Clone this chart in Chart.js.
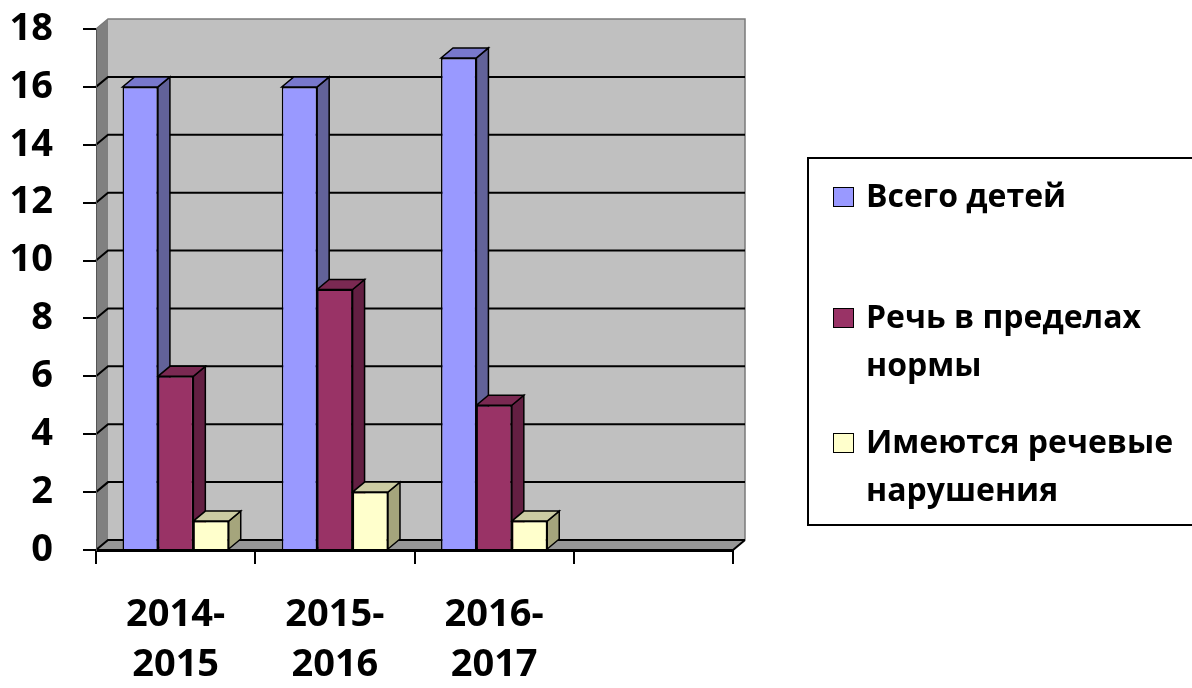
<!DOCTYPE html>
<html><head><meta charset="utf-8">
<script src="https://cdn.jsdelivr.net/npm/chart.js@4.4.1/dist/chart.umd.min.js"></script>
<style>
html,body{margin:0;padding:0;background:#fff;}
#wrap{position:relative;width:1192px;height:688px;overflow:hidden;}
#c{position:absolute;left:0;top:0;}
#legendBox{position:absolute;left:807px;top:157px;width:420px;height:369px;border:2px solid #000;box-sizing:border-box;}
.lg-item{position:absolute;left:866px;font-family:'Open Sans',sans-serif;font-weight:bold;font-size:32px;line-height:48px;color:#000;white-space:nowrap;}
.lg-box{position:absolute;left:833px;width:21px;height:20px;border:1.5px solid #000;box-sizing:border-box;}
</style>
</head><body>
<div id="wrap"><canvas id="c" width="1192" height="688"></canvas></div>
<script>
const categories = [['2014-','2015'], ['2015-','2016'], ['2016-','2017'], ''];
const seriesNames = ['Всего детей', 'Речь в пределах нормы', 'Имеются речевые нарушения'];
const legendLines = [['Всего детей'], ['Речь в пределах','нормы'], ['Имеются речевые','нарушения']];
const totalChildren = [16, 16, 17, null];
const normalSpeech = [6, 9, 5, null];
const speechDisorders = [1, 2, 1, null];
const yMin = 0, yMax = 18, yStep = 2;

const frontColors = ['#9999FF', '#993366', '#FFFFCC'];
const topColors = ['#7878CC', '#7A2952', '#CCCCA3'];
const sideColors = ['#626299', '#631F42', '#A5A57C'];
const DX = 12, DY = 10;

function poly(ctx, pts, fill, stroke, lw) {
  ctx.beginPath();
  ctx.moveTo(pts[0][0], pts[0][1]);
  for (let i = 1; i < pts.length; i++) ctx.lineTo(pts[i][0], pts[i][1]);
  ctx.closePath();
  if (fill) { ctx.fillStyle = fill; ctx.fill(); }
  if (stroke) { ctx.strokeStyle = stroke; ctx.lineWidth = lw || 1; ctx.stroke(); }
}

const wallsPlugin = {
  id: 'walls',
  beforeDraw(chart) {
    const ctx = chart.ctx, a = chart.chartArea, y = chart.scales.y;
    ctx.save();
    poly(ctx, [[a.left, a.top], [a.left + DX, a.top - DY], [a.left + DX, a.bottom - DY], [a.left, a.bottom]], '#808080');
    ctx.fillStyle = '#C0C0C0';
    ctx.fillRect(a.left + DX, a.top - DY, a.right - a.left, a.bottom - a.top);
    poly(ctx, [[a.left, a.bottom], [a.left + DX, a.bottom - DY], [a.right + DX, a.bottom - DY], [a.right, a.bottom]], '#969696');
    ctx.strokeStyle = '#7a7a7a'; ctx.lineWidth = 1.5;
    ctx.beginPath();
    ctx.moveTo(a.left, a.top); ctx.lineTo(a.left + DX, a.top - DY);
    ctx.lineTo(a.right + DX, a.top - DY); ctx.lineTo(a.right + DX, a.bottom - DY);
    ctx.stroke();
    ctx.strokeStyle = '#000'; ctx.lineWidth = 2;
    y.ticks.forEach(t => {
      if (t.value >= yMax) return;
      const py = y.getPixelForValue(t.value);
      ctx.beginPath();
      ctx.moveTo(a.left, py); ctx.lineTo(a.left + DX, py - DY); ctx.lineTo(a.right + DX, py - DY);
      ctx.stroke();
    });
    ctx.beginPath(); ctx.moveTo(a.right, a.bottom); ctx.lineTo(a.right + DX, a.bottom - DY); ctx.stroke();
    ctx.restore();
  }
};

const barDepthPlugin = {
  id: 'barDepth',
  beforeDatasetsDraw(chart) {
    const ctx = chart.ctx;
    ctx.save();
    const n = chart.data.labels.length;
    for (let i = 0; i < n; i++) {
      chart.data.datasets.forEach((ds, d) => {
        if (ds.data[i] == null) return;
        const el = chart.getDatasetMeta(d).data[i];
        const p = el.getProps(['x', 'y', 'base', 'width'], true);
        const l = p.x - p.width / 2, r = p.x + p.width / 2;
        poly(ctx, [[r, p.y], [r + DX, p.y - DY], [r + DX, p.base - DY], [r, p.base]], sideColors[d], '#000', 1.5);
        poly(ctx, [[l, p.y], [r, p.y], [r + DX, p.y - DY], [l + DX, p.y - DY]], topColors[d], '#000', 1.5);
      });
    }
    ctx.restore();
  }
};

const seriesValues = [totalChildren, normalSpeech, speechDisorders];
const axisFont = { family: "'Open Sans', sans-serif", size: 38, weight: 'bold' };

new Chart(document.getElementById('c'), {
  type: 'bar',
  data: {
    labels: categories,
    datasets: seriesNames.map((name, i) => ({
      label: name,
      data: seriesValues[i],
      backgroundColor: frontColors[i],
      borderColor: '#000',
      borderWidth: 1.5,
      categoryPercentage: 0.667,
      barPercentage: 1.0
    }))
  },
  options: {
    responsive: false,
    animation: false,
    devicePixelRatio: 1,
    layout: { padding: { top: 29, right: 459, left: 0, bottom: 0 } },
    plugins: { legend: { display: false }, tooltip: { enabled: false } },
    scales: {
      x: {
        grid: { offset: true, drawOnChartArea: false, drawTicks: true, tickLength: 14, color: '#000', lineWidth: 2 },
        border: { display: true, color: '#000', width: 3 },
        ticks: { font: Object.assign({}, axisFont, { lineHeight: 50 / 38 }), color: '#000', padding: 26, maxRotation: 0, autoSkip: false },
        afterFit(s) { s.height = 138; s.paddingLeft = 0; s.paddingRight = 0; }
      },
      y: {
        min: yMin, max: yMax,
        grid: { drawOnChartArea: false, drawTicks: true, tickLength: 13, color: '#000', lineWidth: 2 },
        border: { display: true, color: '#555', width: 1 },
        ticks: { stepSize: yStep, font: axisFont, color: '#000', padding: 30 },
        afterFit(s) { s.width = 96; s.paddingTop = 0; s.paddingBottom = 0; }
      }
    }
  },
  plugins: [wallsPlugin, barDepthPlugin]
});

const wrap = document.getElementById('wrap');
const lb = document.createElement('div'); lb.id = 'legendBox'; wrap.appendChild(lb);
const legendBaselines = [207, 328, 453];
legendLines.forEach((lines, i) => {
  const item = document.createElement('div');
  item.className = 'lg-item';
  item.style.top = (legendBaselines[i] - 36.4) + 'px';
  item.innerHTML = lines.map(s => '<div>' + s + '</div>').join('');
  wrap.appendChild(item);
  const box = document.createElement('div');
  box.className = 'lg-box';
  box.style.top = (legendBaselines[i] - 20) + 'px';
  box.style.background = frontColors[i];
  wrap.appendChild(box);
});
</script>
</body></html>
